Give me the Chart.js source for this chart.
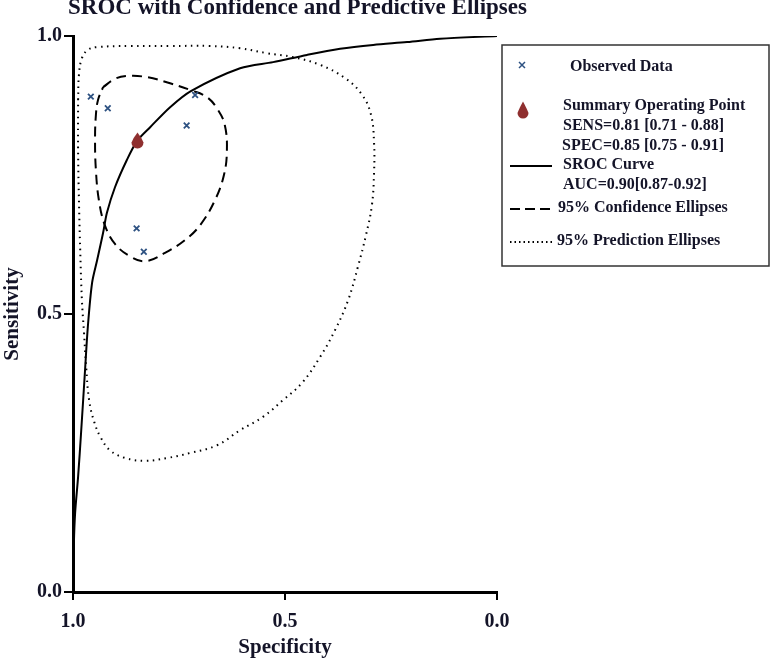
<!DOCTYPE html>
<html>
<head>
<meta charset="utf-8">
<script src="https://cdn.jsdelivr.net/npm/chart.js@4.4.1/dist/chart.umd.min.js"></script>
<style>
    body { margin: 0; background: #fff; }
    #wrap { width: 770px; height: 662px; }
</style>
</head>
<body>
<div id="wrap"><canvas id="sroc" width="770" height="662"></canvas></div>
<script>
// values (specificity, sensitivity)
const observedSpec = [0.958, 0.918, 0.712, 0.732, 0.850, 0.833];
const observedSens = [0.891, 0.870, 0.894, 0.839, 0.654, 0.612];

const summarySpec = [0.848];
const summarySens = [0.812];

const srocSpec = [1.0, 0.998, 0.995, 0.988, 0.981, 0.972, 0.965, 0.955, 0.943, 0.929, 0.920, 0.901, 0.873, 0.849, 0.818, 0.771, 0.722, 0.606, 0.528, 0.448, 0.370, 0.292, 0.212, 0.134, 0.0];
const srocSens = [0.0, 0.085, 0.142, 0.207, 0.286, 0.394, 0.477, 0.556, 0.597, 0.646, 0.682, 0.728, 0.777, 0.811, 0.836, 0.872, 0.901, 0.942, 0.953, 0.966, 0.977, 0.984, 0.989, 0.995, 1.0];

const confSpec = [0.929, 0.901, 0.873, 0.825, 0.771, 0.724, 0.684, 0.658, 0.642, 0.637, 0.644, 0.665, 0.700, 0.736, 0.783, 0.830, 0.866, 0.901, 0.925, 0.939, 0.946, 0.948, 0.946, 0.941, 0.929];
const confSens = [0.908, 0.923, 0.928, 0.926, 0.915, 0.903, 0.890, 0.867, 0.840, 0.795, 0.750, 0.705, 0.660, 0.633, 0.610, 0.595, 0.604, 0.626, 0.660, 0.705, 0.759, 0.813, 0.858, 0.885, 0.908];

const predSpec = [0.988, 0.986, 0.979, 0.965, 0.943, 0.866, 0.771, 0.677, 0.606, 0.542, 0.481, 0.417, 0.358, 0.318, 0.297, 0.290, 0.290, 0.295, 0.309, 0.328, 0.351, 0.382, 0.417, 0.460, 0.505, 0.552, 0.606, 0.660, 0.724, 0.778, 0.830, 0.877, 0.913, 0.934, 0.950, 0.962, 0.969, 0.974, 0.979, 0.983, 0.986, 0.988, 0.988];
const predSens = [0.885, 0.930, 0.960, 0.975, 0.980, 0.982, 0.982, 0.982, 0.978, 0.969, 0.962, 0.948, 0.924, 0.894, 0.858, 0.808, 0.754, 0.696, 0.642, 0.585, 0.525, 0.471, 0.423, 0.376, 0.345, 0.315, 0.291, 0.264, 0.250, 0.241, 0.236, 0.241, 0.255, 0.277, 0.306, 0.345, 0.405, 0.466, 0.525, 0.615, 0.705, 0.795, 0.885];

const chartTitle = 'SROC with Confidence and Predictive Ellipses';
const legendLines = [
    'Observed Data',
    'Summary Operating Point',
    'SENS=0.81 [0.71 - 0.88]',
    'SPEC=0.85 [0.75 - 0.91]',
    'SROC Curve',
    'AUC=0.90[0.87-0.92]',
    '95% Confidence Ellipses',
    '95% Prediction Ellipses'
];

const serif = '"Liberation Serif", "Times New Roman", serif';
const textColor = '#141428';
const blue = '#2e5282';
const darkRed = '#8f2f2f';

function toPoints(xs, ys) {
    return xs.map((x, i) => ({ x: x, y: ys[i] }));
}

// teardrop marker for the summary point
function makeDrop(w, h, color) {
    const c = document.createElement('canvas');
    c.width = w;
    c.height = h;
    const g = c.getContext('2d');
    const r = w / 2 - 0.5;
    const cy = h - r - 0.5;
    g.fillStyle = color;
    g.beginPath();
    g.moveTo(w / 2, 0.5);
    g.quadraticCurveTo(w / 2 + r * 0.7, cy - r * 0.8, w / 2 + r, cy);
    g.arc(w / 2, cy, r, 0, Math.PI);
    g.quadraticCurveTo(w / 2 - r * 0.7, cy - r * 0.8, w / 2, 0.5);
    g.fill();
    return c;
}
const dropImg = makeDrop(13, 17, darkRed);

const titlePlugin = {
    id: 'plainTitle',
    afterDraw(chart) {
        const ctx = chart.ctx;
        ctx.save();
        ctx.font = 'bold 23px ' + serif;
        ctx.fillStyle = textColor;
        ctx.textBaseline = 'alphabetic';
        ctx.fillText(chartTitle, 68, 14);
        ctx.restore();
    }
};

const legendPlugin = {
    id: 'boxLegend',
    afterDraw(chart) {
        const ctx = chart.ctx;
        ctx.save();
        ctx.strokeStyle = '#333';
        ctx.lineWidth = 1.5;
        ctx.strokeRect(502, 45, 267, 221);

        // observed marker
        ctx.strokeStyle = blue;
        ctx.lineWidth = 1.5;
        ctx.beginPath();
        ctx.moveTo(519, 62); ctx.lineTo(525, 68);
        ctx.moveTo(525, 62); ctx.lineTo(519, 68);
        ctx.stroke();

        ctx.drawImage(makeDrop(12, 18, darkRed), 517, 101);

        ctx.strokeStyle = '#000';
        ctx.lineWidth = 2;
        ctx.beginPath(); ctx.moveTo(510, 166); ctx.lineTo(552, 166); ctx.stroke();

        ctx.setLineDash([10, 5]);
        ctx.beginPath(); ctx.moveTo(510, 209); ctx.lineTo(553, 209); ctx.stroke();

        ctx.setLineDash([1.5, 3]);
        ctx.lineWidth = 1.8;
        ctx.beginPath(); ctx.moveTo(510, 242); ctx.lineTo(553, 242); ctx.stroke();
        ctx.setLineDash([]);

        ctx.font = 'bold 16px ' + serif;
        ctx.fillStyle = textColor;
        ctx.textBaseline = 'middle';
        const pos = [[570, 67], [563, 106], [563, 126], [562, 146], [563, 165], [563, 185], [558, 208], [557, 241]];
        legendLines.forEach((t, i) => ctx.fillText(t, pos[i][0], pos[i][1]));
        ctx.restore();
    }
};

const tickFont = { family: serif, size: 20, weight: 'bold' };
const axisTitleFont = { family: serif, size: 21, weight: 'bold' };

new Chart(document.getElementById('sroc').getContext('2d'), {
    type: 'scatter',
    data: {
        datasets: [
            {
                label: 'Observed Data',
                data: toPoints(observedSpec, observedSens),
                pointStyle: 'crossRot',
                pointRadius: 4,
                borderColor: blue,
                borderWidth: 1.8,
                order: 0
            },
            {
                label: 'Summary Operating Point',
                data: toPoints(summarySpec, summarySens),
                pointStyle: dropImg,
                order: 1
            },
            {
                label: 'SROC Curve',
                data: toPoints(srocSpec, srocSens),
                showLine: true,
                borderColor: '#000',
                borderWidth: 2,
                pointRadius: 0,
                tension: 0.3,
                order: 2
            },
            {
                label: '95% Confidence Ellipses',
                data: toPoints(confSpec, confSens),
                showLine: true,
                borderColor: '#000',
                borderWidth: 2,
                borderDash: [10, 6],
                pointRadius: 0,
                tension: 0.4,
                order: 3
            },
            {
                label: '95% Prediction Ellipses',
                data: toPoints(predSpec, predSens),
                showLine: true,
                borderColor: '#000',
                borderWidth: 2,
                borderDash: [1.5, 4.5],
                pointRadius: 0,
                tension: 0.4,
                order: 4
            }
        ]
    },
    options: {
        responsive: false,
        animation: false,
        layout: { padding: { top: 36, right: 273, left: 0, bottom: 0 } },
        plugins: {
            legend: { display: false },
            tooltip: { enabled: false },
            title: { display: false }
        },
        scales: {
            x: {
                type: 'linear',
                reverse: true,
                min: 0,
                max: 1,
                ticks: { stepSize: 0.5, color: textColor, font: tickFont, padding: 10, maxRotation: 0, callback: v => v.toFixed(1) },
                grid: { drawOnChartArea: false, color: '#000', lineWidth: 2, tickLength: 8 },
                border: { color: '#000', width: 3 },
                title: { display: true, text: 'Specificity', color: textColor, font: axisTitleFont, padding: { top: 0, bottom: 2 } },
                afterFit: s => { s.height = 70; }
            },
            y: {
                type: 'linear',
                min: 0,
                max: 1,
                ticks: { stepSize: 0.5, color: textColor, font: tickFont, padding: 2, callback: v => v.toFixed(1) },
                grid: { drawOnChartArea: false, color: '#000', lineWidth: 2, tickLength: 9 },
                border: { color: '#000', width: 3 },
                title: { display: true, text: 'Sensitivity', color: textColor, font: axisTitleFont, padding: { top: 0, bottom: 0 } },
                afterFit: s => { s.width = 73; }
            }
        }
    },
    plugins: [titlePlugin, legendPlugin]
});
</script>
</body>
</html>
